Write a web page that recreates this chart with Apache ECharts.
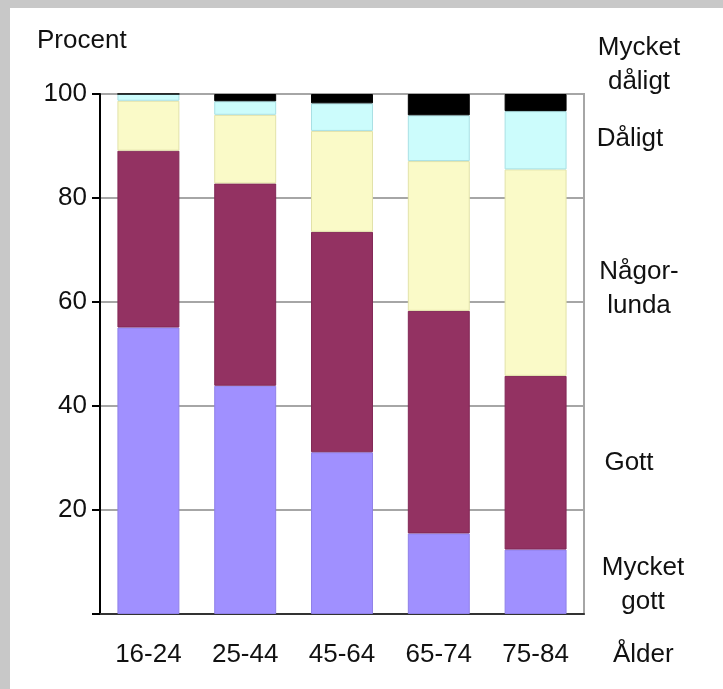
<!DOCTYPE html>
<html>
<head>
<meta charset="utf-8">
<script src="https://cdn.jsdelivr.net/npm/echarts@6/dist/echarts.min.js"></script>
<style>
  html, body { margin: 0; padding: 0; background: #ffffff; }
  #chart { width: 723px; height: 689px; }
</style>
</head>
<body>
<div id="chart"></div>
<script>
// Age groups
const ageGroups = ['16-24', '25-44', '45-64', '65-74', '75-84'];

// Self-rated health, percent per age group (stacked bottom to top)
const mycketGott   = [55.1, 43.9, 31.1, 15.5, 12.4];
const gott         = [34.0, 38.9, 42.4, 42.8, 33.4];
const nagorlunda   = [9.6, 13.2, 19.4, 28.8, 39.7];
const daligt       = [1.3, 2.6, 5.3, 8.8, 11.2];
const mycketDaligt = [0, 1.4, 1.8, 4.1, 3.3];

// Y axis ticks
const yMin = 0, yMax = 100, yStep = 20;

const FONT = '"Liberation Sans", Arial, sans-serif';
const FS = 26;

const chart = echarts.init(document.getElementById('chart'), null, { renderer: 'canvas' });

function barSeries(name, data, color, border) {
  return {
    name: name,
    type: 'bar',
    stack: 'total',
    data: data,
    barCategoryGap: '36%',
    itemStyle: { color: color, borderColor: border, borderWidth: 1 },
    emphasis: { disabled: true }
  };
}

const textStyle = { fontFamily: FONT, fontSize: FS, fill: '#111' };

chart.setOption({
  backgroundColor: '#ffffff',
  animation: false,
  grid: {
    left: 100, right: 139, top: 94, bottom: 75,
    show: true, borderColor: '#a6a6a6', borderWidth: 2, backgroundColor: 'transparent'
  },
  xAxis: {
    type: 'category',
    data: ageGroups,
    axisLine: { lineStyle: { color: '#333', width: 2 } },
    axisTick: { show: false },
    axisLabel: { color: '#111', fontFamily: FONT, fontSize: FS, margin: 28 }
  },
  yAxis: {
    type: 'value',
    min: yMin, max: yMax, interval: yStep,
    axisLine: { show: true, lineStyle: { color: '#000', width: 2 } },
    axisTick: { show: true, length: 8, lineStyle: { color: '#000', width: 2 } },
    axisLabel: {
      color: '#111', fontFamily: FONT, fontSize: FS, margin: 13,
      formatter: v => (v === 0 ? '' : String(v))
    },
    splitLine: { lineStyle: { color: '#a6a6a6', width: 2 } }
  },
  series: [
    barSeries('Mycket gott', mycketGott, '#a090ff', '#8f80e8'),
    barSeries('Gott', gott, '#933262', '#822856'),
    barSeries('Någorlunda', nagorlunda, '#fafac8', '#e2e2a8'),
    barSeries('Dåligt', daligt, '#ccfcfc', '#a8e0e4'),
    barSeries('Mycket dåligt', mycketDaligt, '#000000', '#000000')
  ],
  graphic: [
    // grey frame along the top and left edges
    { type: 'rect', shape: { x: 0, y: 0, width: 723, height: 8 }, style: { fill: '#c8c8c8' }, z: 100 },
    { type: 'rect', shape: { x: 0, y: 0, width: 10, height: 689 }, style: { fill: '#c8c8c8' }, z: 100 },
    // axis titles
    { type: 'text', x: 37, y: 41, style: Object.assign({ text: 'Procent', textVerticalAlign: 'middle' }, textStyle) },
    { type: 'text', x: 613, y: 655, style: Object.assign({ text: 'Ålder', textVerticalAlign: 'middle' }, textStyle) },
    // category names beside the stack
    { type: 'text', x: 639, y: 48, style: Object.assign({ text: 'Mycket', textAlign: 'center', textVerticalAlign: 'middle' }, textStyle) },
    { type: 'text', x: 639, y: 82, style: Object.assign({ text: 'dåligt', textAlign: 'center', textVerticalAlign: 'middle' }, textStyle) },
    { type: 'text', x: 630, y: 139, style: Object.assign({ text: 'Dåligt', textAlign: 'center', textVerticalAlign: 'middle' }, textStyle) },
    { type: 'text', x: 639, y: 272, style: Object.assign({ text: 'Någor-', textAlign: 'center', textVerticalAlign: 'middle' }, textStyle) },
    { type: 'text', x: 639, y: 306, style: Object.assign({ text: 'lunda', textAlign: 'center', textVerticalAlign: 'middle' }, textStyle) },
    { type: 'text', x: 629, y: 463, style: Object.assign({ text: 'Gott', textAlign: 'center', textVerticalAlign: 'middle' }, textStyle) },
    { type: 'text', x: 643, y: 568, style: Object.assign({ text: 'Mycket', textAlign: 'center', textVerticalAlign: 'middle' }, textStyle) },
    { type: 'text', x: 643, y: 602, style: Object.assign({ text: 'gott', textAlign: 'center', textVerticalAlign: 'middle' }, textStyle) }
  ]
});
</script>
</body>
</html>
